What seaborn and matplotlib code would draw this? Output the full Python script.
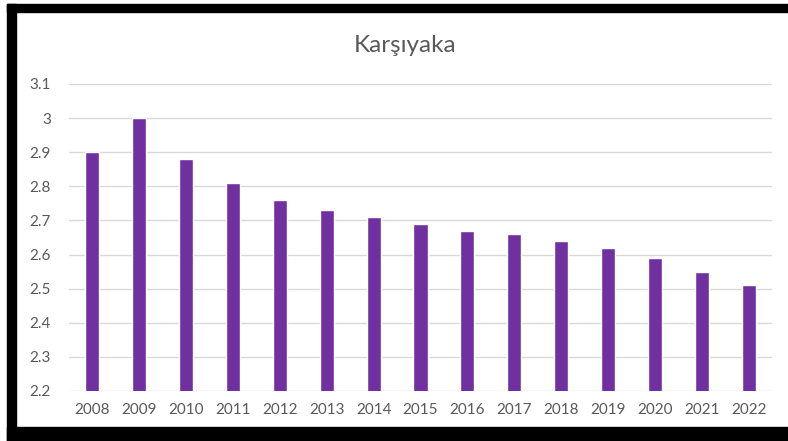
import pandas as pd
import matplotlib.pyplot as plt
import seaborn as sns
from matplotlib.patches import Rectangle

# Data
years = ["2008", "2009", "2010", "2011", "2012", "2013", "2014", "2015",
         "2016", "2017", "2018", "2019", "2020", "2021", "2022"]
values = [2.90, 3.00, 2.88, 2.81, 2.76, 2.73, 2.71, 2.69,
          2.67, 2.66, 2.64, 2.62, 2.59, 2.55, 2.51]
y_ticks = [2.2, 2.3, 2.4, 2.5, 2.6, 2.7, 2.8, 2.9, 3.0, 3.1]
y_tick_labels = ["2.2", "2.3", "2.4", "2.5", "2.6", "2.7", "2.8", "2.9", "3", "3.1"]

df = pd.DataFrame({"Year": years, "Value": values})

sns.set_style("white")
plt.rcParams["font.family"] = ["Lato", "DejaVu Sans"]

W, H = 788, 441
fig = plt.figure(figsize=(W / 100, H / 100), dpi=100)
ax = fig.add_axes([69 / W, 1 - 391 / H, (772 - 69) / W, (391 - 84) / H])

sns.barplot(data=df, x="Year", y="Value", color="#7030A0", width=0.3,
            saturation=1, ax=ax, zorder=3)

ax.set_ylim(2.2, 3.1)
ax.set_xlim(-0.5, len(years) - 0.5)
ax.set_yticks(y_ticks)
ax.set_yticklabels(y_tick_labels)
ax.grid(axis="y", color="#D9D9D9", linewidth=1, zorder=0)
ax.set_axisbelow(True)
for s in ax.spines.values():
    s.set_visible(False)
ax.tick_params(axis="both", length=0, labelsize=11, labelcolor="#595959")
ax.tick_params(axis="x", pad=9)
ax.tick_params(axis="y", pad=13)
ax.set_xlabel("")
ax.set_ylabel("")

fig.text(405 / W, 1 - 45 / H, "Karşıyaka", ha="center", va="center",
         fontsize=17.5, color="#595959")

# black frame (top, left, bottom)
fig.add_artist(Rectangle((7 / W, 1 - 441 / H), 9 / W, 437 / H,
                         transform=fig.transFigure, color="black", zorder=10))
fig.add_artist(Rectangle((7 / W, 1 - 12 / H), 781 / W, 8 / H,
                         transform=fig.transFigure, color="black", zorder=10))
fig.add_artist(Rectangle((7 / W, 0), 781 / W, 14 / H,
                         transform=fig.transFigure, color="black", zorder=10))

fig.savefig("out.png", dpi=100)
